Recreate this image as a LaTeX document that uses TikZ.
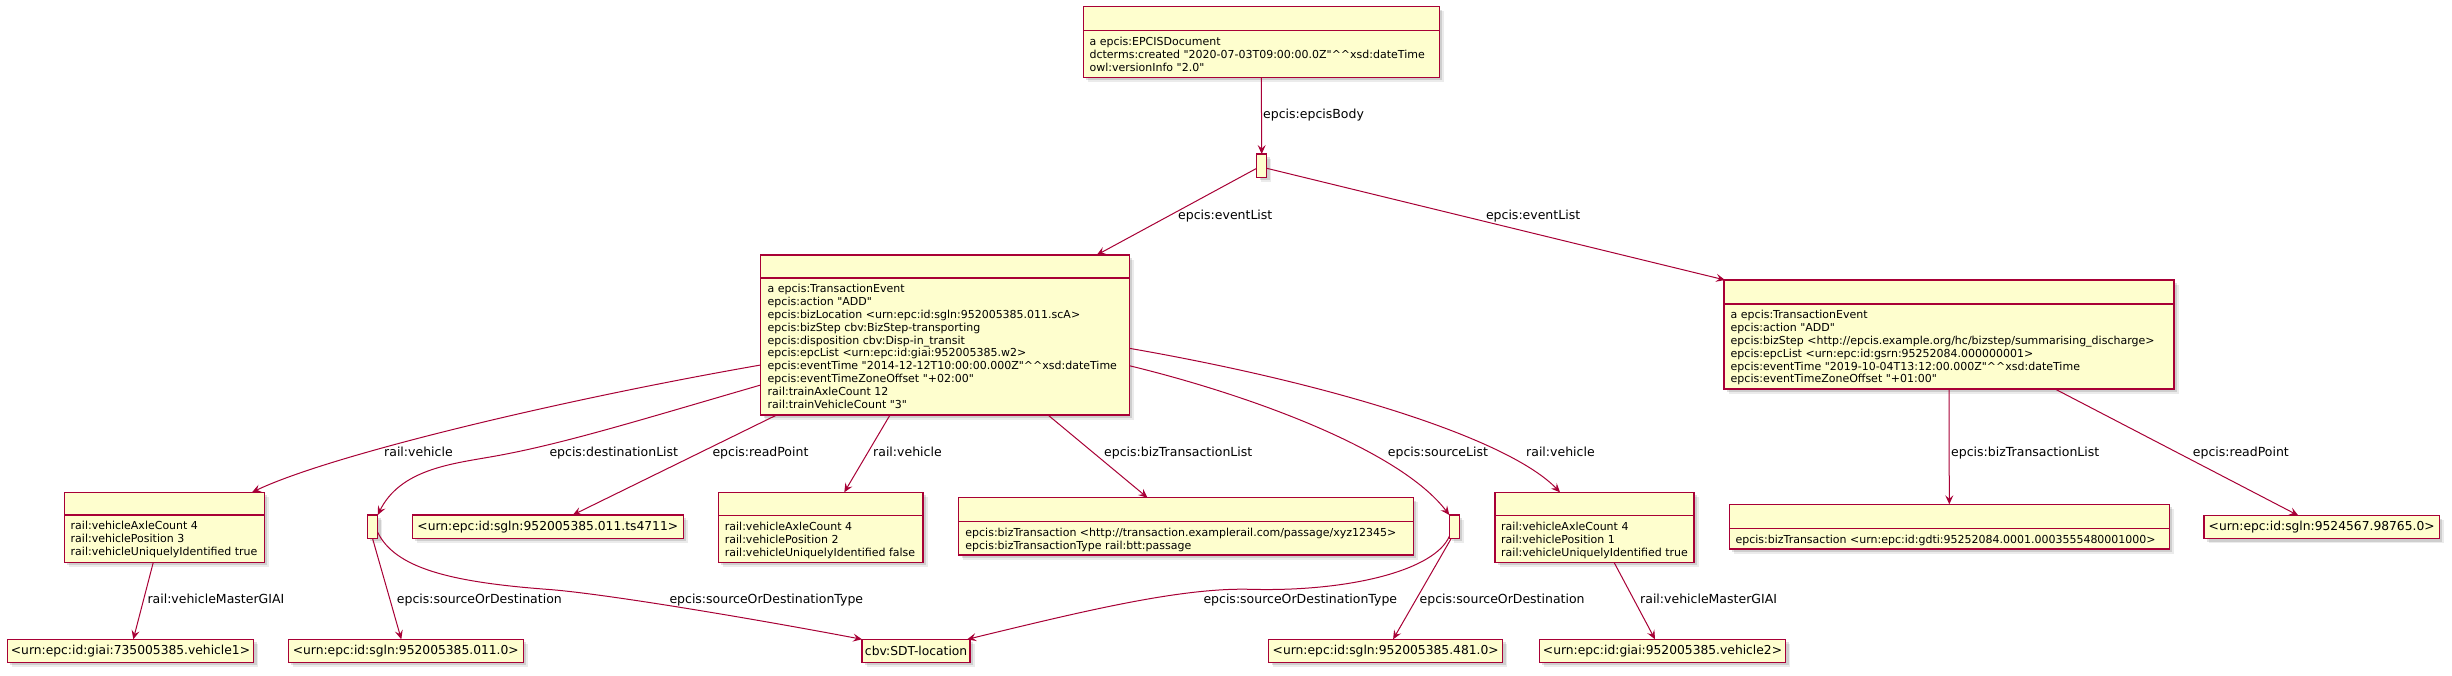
\documentclass[tikz,border=0pt]{standalone}
\usepackage{fontspec}
\setmainfont{DejaVu Sans}[Ligatures=TeXOff]
\usetikzlibrary{arrows.meta,calc,shadows}
\definecolor{pred}{HTML}{A80036}
\definecolor{pfill}{HTML}{FEFECE}
\newcommand\dcaret{\textasciicircum\textasciicircum}
\begin{document}
\begin{tikzpicture}[x=1pt,y=-1pt,
  box/.style={draw=pred, fill=pfill, line width=1.5pt, inner sep=0pt, outer sep=0pt, anchor=north west,
    drop shadow={shadow xshift=4.5pt, shadow yshift=-4.5pt, opacity=0.08, fill=black},
    drop shadow={shadow xshift=3pt, shadow yshift=-3pt, opacity=0.12, fill=black}},
  uri/.style={box, font=\fontsize{12.3}{14}\selectfont, minimum height=23pt},
  blank/.style={box, minimum width=10pt, minimum height=23.3pt},
  attr/.style={inner sep=0pt, outer sep=0pt, anchor=north west, align=left, font=\fontsize{11}{12.8}\selectfont},
  lbl/.style={inner sep=0pt, anchor=west, font=\fontsize{12.5}{14}\selectfont, text height=9pt, text depth=2.5pt},
  sepl/.style={draw=pred, line width=1.2pt},
  edge/.style={draw=pred, line width=1pt, -{Stealth[length=9pt,width=8pt,inset=3.5pt]}}
]
\fill[white] (0,0) rectangle (2452,675);
\useasboundingbox (0,0) rectangle (2452,675);

% ---------- class boxes ----------
\node[box, minimum width=356pt, minimum height=70.6pt] (doc) at (1083.3,6.7) {};
\node[box, minimum width=368.6pt, minimum height=160pt] (ev1) at (760.7,255) {};
\node[box, minimum width=450pt, minimum height=109pt] (ev2) at (1724,280) {};
\node[box, minimum width=200pt, minimum height=70pt] (veh3) at (64.3,492.3) {};
\node[box, minimum width=204.7pt, minimum height=70pt] (veh2) at (718.3,492.3) {};
\node[box, minimum width=199pt, minimum height=70pt] (veh1) at (1495,492.3) {};
\node[box, minimum width=454.6pt, minimum height=57.3pt] (bt1) at (958.7,497.7) {};
\node[box, minimum width=440pt, minimum height=44.7pt] (bt2) at (1729.3,504.3) {};

% ---------- blank nodes ----------
\node[blank] (b1) at (1256.7,154) {};
\node[blank, minimum width=10.4pt] (b2) at (367.3,515) {};
\node[blank] (b3) at (1449.3,515) {};

% ---------- uri boxes ----------
\node[uri, minimum width=246.4pt] (giai1) at (7.3,639.3) {<urn:epc:id:giai:735005385.vehicle1>};
\node[uri, minimum width=235pt] (sgln011) at (288.3,639.3) {<urn:epc:id:sgln:952005385.011.0>};
\node[uri, minimum width=271pt, minimum height=23.3pt] (ts4711) at (412.3,515) {<urn:epc:id:sgln:952005385.011.ts4711>};
\node[uri, minimum width=108.2pt] (sdt) at (862,639.3) {cbv:SDT-location};
\node[uri, minimum width=234pt] (sgln481) at (1268.7,639.3) {<urn:epc:id:sgln:952005385.481.0>};
\node[uri, minimum width=246.4pt] (giai2) at (1539.3,639.3) {<urn:epc:id:giai:952005385.vehicle2>};
\node[uri, minimum width=235.3pt] (rp2) at (2204,515.5) {<urn:epc:id:sgln:9524567.98765.0>};

% ---------- separators ----------
\draw[sepl] ($(doc.north west)+(0,24)$) -- ($(doc.north east)+(0,24)$);
\draw[sepl] ($(ev1.north west)+(0,23)$) -- ($(ev1.north east)+(0,23)$);
\draw[sepl] ($(ev2.north west)+(0,24)$) -- ($(ev2.north east)+(0,24)$);
\draw[sepl] ($(veh3.north west)+(0,22.7)$) -- ($(veh3.north east)+(0,22.7)$);
\draw[sepl] ($(veh2.north west)+(0,23.4)$) -- ($(veh2.north east)+(0,23.4)$);
\draw[sepl] ($(veh1.north west)+(0,23.4)$) -- ($(veh1.north east)+(0,23.4)$);
\draw[sepl] ($(bt1.north west)+(0,24)$) -- ($(bt1.north east)+(0,24)$);
\draw[sepl] ($(bt2.north west)+(0,24)$) -- ($(bt2.north east)+(0,24)$);

% ---------- attribute texts ----------
\node[attr] (doct) at ($(doc.north west)+(6.3,29.84)$) {\strut a epcis:EPCISDocument\\\strut dcterms:created "2020-07-03T09:00:00.0Z"\dcaret xsd:dateTime\\\strut owl:versionInfo "2.0"};
\node[attr] (ev1t) at ($(ev1.north west)+(7,28.84)$) {\strut a epcis:TransactionEvent\\\strut epcis:action "ADD"\\\strut epcis:bizLocation <urn:epc:id:sgln:952005385.011.scA>\\\strut epcis:bizStep cbv:BizStep-transporting\\\strut epcis:disposition cbv:Disp-in\_transit\\\strut epcis:epcList <urn:epc:id:giai:952005385.w2>\\\strut epcis:eventTime "2014-12-12T10:00:00.000Z"\dcaret xsd:dateTime\\\strut epcis:eventTimeZoneOffset "+02:00"\\\strut rail:trainAxleCount 12\\\strut rail:trainVehicleCount "3"};
\node[attr] (ev2t) at ($(ev2.north west)+(6.7,29.84)$) {\strut a epcis:TransactionEvent\\\strut epcis:action "ADD"\\\strut epcis:bizStep <http://epcis.example.org/hc/bizstep/summarising\_discharge>\\\strut epcis:epcList <urn:epc:id:gsrn:95252084.000000001>\\\strut epcis:eventTime "2019-10-04T13:12:00.000Z"\dcaret xsd:dateTime\\\strut epcis:eventTimeZoneOffset "+01:00"};
\node[attr] (veh3t) at ($(veh3.north west)+(6.4,28.54)$) {\strut rail:vehicleAxleCount 4\\\strut rail:vehiclePosition 3\\\strut rail:vehicleUniquelyIdentified true};
\node[attr] (veh2t) at ($(veh2.north west)+(6.6,29.24)$) {\strut rail:vehicleAxleCount 4\\\strut rail:vehiclePosition 2\\\strut rail:vehicleUniquelyIdentified false};
\node[attr] (veh1t) at ($(veh1.north west)+(6.2,29.24)$) {\strut rail:vehicleAxleCount 4\\\strut rail:vehiclePosition 1\\\strut rail:vehicleUniquelyIdentified true};
\node[attr] (bt1t) at ($(bt1.north west)+(6.7,29.84)$) {\strut epcis:bizTransaction <http://transaction.examplerail.com/passage/xyz12345>\\\strut epcis:bizTransactionType rail:btt:passage};
\node[attr] (bt2t) at ($(bt2.north west)+(6.2,29.84)$) {\strut epcis:bizTransaction <urn:epc:id:gdti:95252084.0001.0003555480001000>};

% ---------- connectors ----------
\draw[edge] (doc.south) -- (b1.north);
\draw[edge] ($(b1.south west)+(0,-9)$) -- ($(ev1.north west)+(336,0)$);
\draw[edge] ($(b1.south east)+(0,-9)$) -- ($(ev2.north west)+(1,0)$);
\draw[edge] ($(ev1.north west)+(0,110)$) .. controls (560,400) and (330,455) .. ($(veh3.north west)+(187.7,0)$);
\draw[edge] ($(ev1.north west)+(0,130)$) .. controls (640,420) and (560,445) .. (490,457) .. controls (450,464) and (400,470) .. (b2.north east);
\draw[edge] ($(ev1.south west)+(16,0)$) -- ($(ts4711.north west)+(160.4,0)$);
\draw[edge] ($(ev1.south west)+(129.3,0)$) -- ($(veh2.north west)+(126,0)$);
\draw[edge] ($(ev1.south west)+(287.3,0)$) -- ($(bt1.north west)+(188.8,0)$);
\draw[edge] ($(ev1.north east)+(0,110.7)$) .. controls (1250,395) and (1400,450) .. (b3.north west);
\draw[edge] ($(ev1.north east)+(0,93.3)$) .. controls (1340,385) and (1510,440) .. ($(veh1.north west)+(65,0)$);
\draw[edge] ($(veh3.south west)+(89,0)$) -- ($(giai1.north west)+(126,0)$);
\draw[edge] (b2.south) -- ($(sgln011.north west)+(113,0)$);
\draw[edge] ($(b2.south east)+(0,-6)$) .. controls (395,568) and (450,582) .. (546.7,589.3) .. controls (600,593) and (750,618) .. (sdt.north west);
\draw[edge] ($(b3.south west)+(2,0)$) -- ($(sgln481.north west)+(124.4,0)$);
\draw[edge] ($(b3.south west)+(0,-2)$) .. controls (1435,570) and (1350,592) .. (1250,589.3) .. controls (1180,587.4) and (1080,612) .. ($(sdt.north east)+(-3,0)$);
\draw[edge] ($(veh1.south west)+(119,0)$) -- ($(giai2.north west)+(115.7,0)$);
\draw[edge] (ev2.south) -- (bt2.north);
\draw[edge] ($(ev2.south west)+(331,0)$) -- ($(rp2.north west)+(94.3,0)$);

% ---------- connector labels ----------
\node[lbl] (l1) at (1263,115.7) {epcis:epcisBody};
\node[lbl] (l2) at (1178,216.7) {epcis:eventList};
\node[lbl] (l3) at (1485.8,216.7) {epcis:eventList};
\node[lbl] (l4) at (384,453.3) {rail:vehicle};
\node[lbl] (l5) at (549.3,453.3) {epcis:destinationList};
\node[lbl] (l6) at (712.3,453.3) {epcis:readPoint};
\node[lbl] (l7) at (873,453.3) {rail:vehicle};
\node[lbl] (l8) at (1104,453.3) {epcis:bizTransactionList};
\node[lbl] (l9) at (1387.7,453.3) {epcis:sourceList};
\node[lbl] (l10) at (1526,453.3) {rail:vehicle};
\node[lbl] (l11) at (1951,453.3) {epcis:bizTransactionList};
\node[lbl] (l12) at (2192.7,453.3) {epcis:readPoint};
\node[lbl] (l13) at (147.3,600.7) {rail:vehicleMasterGIAI};
\node[lbl] (l14) at (396.7,600.7) {epcis:sourceOrDestination};
\node[lbl] (l15) at (669.3,600.7) {epcis:sourceOrDestinationType};
\node[lbl] (l16) at (1203.3,600.7) {epcis:sourceOrDestinationType};
\node[lbl] (l17) at (1419.5,600.7) {epcis:sourceOrDestination};
\node[lbl] (l18) at (1640,600.7) {rail:vehicleMasterGIAI};
\end{tikzpicture}
\end{document}
